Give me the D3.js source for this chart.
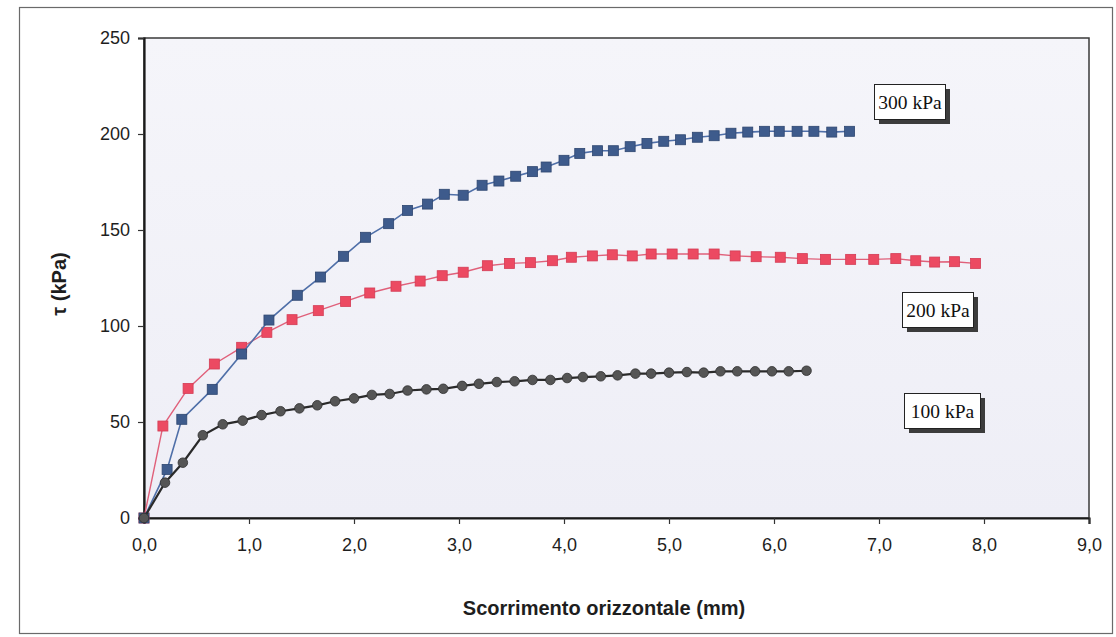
<!DOCTYPE html>
<html>
<head>
<meta charset="utf-8">
<script src="https://cdn.jsdelivr.net/npm/d3@7"></script>
<style>
  html, body { margin: 0; padding: 0; background: #ffffff; }
  svg { display: block; }
</style>
</head>
<body>
<svg id="chart" width="1116" height="637"></svg>
<script>
// Shear test: shear stress vs horizontal displacement for three normal loads
const xTicks = [0, 1, 2, 3, 4, 5, 6, 7, 8, 9];
const yTicks = [0, 50, 100, 150, 200, 250];

const s300x = [0, 0.22, 0.36, 0.65, 0.93, 1.19, 1.46, 1.68, 1.90, 2.11, 2.33, 2.51, 2.70, 2.86, 3.04, 3.22, 3.38, 3.54, 3.70, 3.83, 4.00, 4.15, 4.32, 4.47, 4.63, 4.79, 4.95, 5.11, 5.27, 5.43, 5.59, 5.75, 5.91, 6.05, 6.22, 6.38, 6.55, 6.72];
const s300y = [0, 25.3, 51.4, 67.0, 85.4, 103.1, 116.0, 125.5, 136.3, 146.2, 153.3, 160.2, 163.5, 168.6, 168.1, 173.3, 175.5, 178.0, 180.4, 182.8, 186.3, 189.9, 191.3, 191.3, 193.4, 195.1, 196.2, 197.0, 198.3, 199.1, 200.4, 201.0, 201.4, 201.4, 201.4, 201.4, 201.0, 201.4];

const s200x = [0, 0.18, 0.42, 0.67, 0.93, 1.17, 1.41, 1.66, 1.92, 2.15, 2.40, 2.63, 2.84, 3.04, 3.27, 3.48, 3.68, 3.89, 4.07, 4.27, 4.46, 4.65, 4.83, 5.03, 5.23, 5.43, 5.63, 5.83, 6.06, 6.27, 6.49, 6.73, 6.95, 7.16, 7.35, 7.53, 7.72, 7.92];
const s200y = [0, 47.9, 67.5, 80.2, 88.9, 96.7, 103.3, 108.0, 112.8, 117.2, 120.7, 123.4, 126.2, 128.0, 131.4, 132.6, 133.0, 134.0, 135.8, 136.5, 137.1, 136.5, 137.5, 137.5, 137.5, 137.5, 136.5, 136.1, 135.8, 135.1, 134.7, 134.7, 134.7, 135.1, 134.0, 133.3, 133.5, 132.6];

const s100x = [0, 0.20, 0.37, 0.56, 0.75, 0.94, 1.12, 1.30, 1.48, 1.65, 1.82, 2.00, 2.17, 2.34, 2.51, 2.69, 2.85, 3.03, 3.19, 3.36, 3.53, 3.70, 3.87, 4.03, 4.18, 4.35, 4.51, 4.68, 4.83, 5.00, 5.17, 5.33, 5.49, 5.65, 5.82, 5.98, 6.14, 6.31];
const s100y = [0, 18.4, 28.8, 43.1, 48.8, 50.7, 53.6, 55.6, 57.1, 58.7, 60.8, 62.3, 64.1, 64.6, 66.4, 67.0, 67.3, 68.8, 69.9, 70.8, 71.2, 71.9, 71.9, 72.9, 73.4, 73.8, 74.3, 75.2, 75.2, 75.7, 76.0, 75.7, 76.4, 76.4, 76.4, 76.4, 76.4, 76.7];

const seriesNames = ["300 kPa", "200 kPa", "100 kPa"];

const svg = d3.select("#chart");
const plot = { left: 144, top: 38, right: 1089, bottom: 518 };

const x = d3.scaleLinear().domain([0, 9]).range([plot.left, plot.right]);
const y = d3.scaleLinear().domain([0, 250]).range([plot.bottom, plot.top]);

// outer chart frame
svg.append("rect")
  .attr("x", 19.5).attr("y", 7.5)
  .attr("width", 1093).attr("height", 626)
  .attr("fill", "#ffffff")
  .attr("stroke", "#6a6a6a").attr("stroke-width", 1.2);

// plot area background
const grad = svg.append("defs").append("linearGradient")
  .attr("id", "plotBg").attr("x1", 0).attr("y1", 0).attr("x2", 0).attr("y2", 1);
grad.append("stop").attr("offset", "0%").attr("stop-color", "#f5f5fa");
grad.append("stop").attr("offset", "100%").attr("stop-color", "#eeeef6");

svg.append("rect")
  .attr("x", plot.left).attr("y", plot.top)
  .attr("width", plot.right - plot.left).attr("height", plot.bottom - plot.top)
  .attr("fill", "url(#plotBg)")
  .attr("stroke", "#3a3a3a").attr("stroke-width", 1.5);

// axes
const tickFont = "'Liberation Sans', Arial, sans-serif";
const fmtX = d => d.toFixed(1).replace(".", ",");

const xAxis = svg.append("g")
  .attr("transform", `translate(0,${plot.bottom})`)
  .call(d3.axisBottom(x).tickValues(xTicks).tickFormat(fmtX).tickSize(6).tickPadding(14));
const yAxis = svg.append("g")
  .attr("transform", `translate(${plot.left},0)`)
  .call(d3.axisLeft(y).tickValues(yTicks).tickSize(6).tickPadding(8));

[xAxis, yAxis].forEach(g => {
  g.select(".domain").attr("stroke", "#1a1a1a").attr("stroke-width", 2.2);
  g.selectAll(".tick line").attr("stroke", "#333").attr("stroke-width", 1.2);
  g.selectAll(".tick text")
    .attr("fill", "#1e1e1e")
    .style("font-family", tickFont)
    .style("font-size", "18px");
});

// axis titles
svg.append("text")
  .attr("x", 604).attr("y", 615)
  .attr("text-anchor", "middle")
  .style("font-family", tickFont).style("font-weight", "bold").style("font-size", "20px")
  .attr("fill", "#1e1e1e")
  .text("Scorrimento orizzontale (mm)");

svg.append("text")
  .attr("transform", `translate(66,284) rotate(-90)`)
  .attr("text-anchor", "middle")
  .style("font-family", tickFont).style("font-weight", "bold").style("font-size", "20px")
  .attr("fill", "#1e1e1e")
  .text("τ (kPa)");

// series
const line = d3.line().x(d => x(d[0])).y(d => y(d[1]));
const pts = (xs, ys) => xs.map((v, i) => [v, ys[i]]);

const d300 = pts(s300x, s300y);
const d200 = pts(s200x, s200y);
const d100 = pts(s100x, s100y);

const gSeries = svg.append("g");

function drawSquares(data, lineColor, fill, stroke, lw) {
  gSeries.append("path").datum(data)
    .attr("d", line).attr("fill", "none")
    .attr("stroke", lineColor).attr("stroke-width", lw);
  gSeries.append("g").selectAll("rect").data(data).join("rect")
    .attr("x", d => x(d[0]) - 5).attr("y", d => y(d[1]) - 5)
    .attr("width", 10).attr("height", 10)
    .attr("fill", fill).attr("stroke", stroke).attr("stroke-width", 0.8);
}

drawSquares(d200, "#e0607a", "#ec4a62", "#d43c55", 1.4);
drawSquares(d300, "#4f6fa8", "#3e5b8c", "#2e4670", 1.6);

gSeries.append("path").datum(d100)
  .attr("d", line).attr("fill", "none")
  .attr("stroke", "#2a2a2a").attr("stroke-width", 2.2);
gSeries.append("g").selectAll("circle").data(d100).join("circle")
  .attr("cx", d => x(d[0])).attr("cy", d => y(d[1])).attr("r", 4.8)
  .attr("fill", "#555555").attr("stroke", "#2f2f2f").attr("stroke-width", 0.8);

// series labels in boxes with drop shadows
const labelBoxes = [
  { name: seriesNames[0], px: 874, py: 84, w: 71, h: 35 },
  { name: seriesNames[1], px: 902, py: 292, w: 71, h: 35 },
  { name: seriesNames[2], px: 904, py: 393, w: 76, h: 35 }
];

const gLabels = svg.append("g");
labelBoxes.forEach(b => {
  gLabels.append("rect")
    .attr("x", b.px + 5).attr("y", b.py + 5).attr("width", b.w).attr("height", b.h)
    .attr("fill", "#3c3c3c");
  gLabels.append("rect")
    .attr("x", b.px + 0.5).attr("y", b.py + 0.5).attr("width", b.w).attr("height", b.h)
    .attr("fill", "#ffffff").attr("stroke", "#222").attr("stroke-width", 1);
  gLabels.append("text")
    .attr("x", b.px + b.w / 2 + 0.5).attr("y", b.py + b.h / 2 + 7.5)
    .attr("text-anchor", "middle")
    .style("font-family", "'Liberation Serif', 'Times New Roman', serif")
    .style("font-size", "19.5px")
    .attr("fill", "#111")
    .text(b.name);
});
</script>
</body>
</html>
